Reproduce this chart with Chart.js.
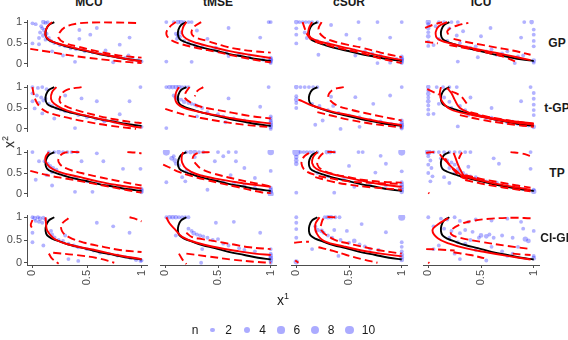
<!DOCTYPE html>
<html>
<head>
<meta charset="utf-8">
<script src="https://cdn.jsdelivr.net/npm/chart.js@4.4.0/dist/chart.umd.min.js"></script>
<style>
  body { margin: 0; background: #fff; font-family: "Liberation Sans", Arial, sans-serif; }
  #wrap { position: relative; width: 568px; height: 340px; overflow: hidden; }
  #wrap canvas { position: absolute; }
  .lab { position: absolute; white-space: nowrap; color: #1a1a1a; line-height: 12px; }
  .strip { font-weight: bold; font-size: 12px; }
  .dot { position: absolute; border-radius: 50%; background: rgba(0, 0, 255, 0.33); }
</style>
</head>
<body>
<div id="wrap"></div>
<script>
// facettes
const methods = ['MCU', 'tMSE', 'cSUR', 'ICU'];
const models = ['GP', 't-GP', 'TP', 'Cl-GP'];
const xTicks = [0, 0.5, 1];
const yTicks = [0, 0.5, 1];
const legendN = [2, 4, 6, 8, 10];

// contour vrai (noir), identique partout
const trueCurve = [[0.2,1.0],[0.15,0.93],[0.125,0.82],[0.12,0.7],[0.135,0.6],[0.18,0.53],[0.26,0.46],[0.35,0.39],[0.47,0.32],[0.6,0.24],[0.75,0.17],[0.88,0.11],[1.0,0.07]];

// ---- GP ----
const pts_MCU_GP = [[0.0,0.97,1],[0.03,0.95,1],[0.08,0.9,1],[0.1,1.0,2],[0.12,0.98,1],[0.14,1.0,1],[0.09,0.85,1],[0.11,0.8,2],[0.07,0.75,1],[0.13,0.72,1],[0.1,0.68,2],[0.15,0.62,1],[0.12,0.58,1],[0.17,0.55,1],[0.2,0.5,1],[0.06,0.62,1],[0.0,0.49,1],[0.06,0.47,1],[0.25,0.45,1],[0.3,0.42,1],[0.35,0.37,1],[0.4,0.35,1],[0.48,0.3,1],[0.55,0.28,1],[0.62,0.24,1],[0.7,0.2,1],[0.78,0.17,1],[0.85,0.14,1],[0.92,0.1,1],[0.97,0.08,2],[1.0,0.06,1],[0.43,0.81,1],[0.59,0.86,1],[0.53,0.7,1],[0.43,0.6,1],[0.89,0.63,1],[0.8,0.46,1],[0.67,0.32,1],[0.39,0.05,1],[0.74,0.04,1],[0.88,0.2,1],[0.28,0.2,1],[0.18,0.3,1]];
const est_MCU_GP = [[[0.18,1.0],[0.14,0.9],[0.12,0.78],[0.12,0.68],[0.15,0.58],[0.22,0.5],[0.33,0.42],[0.47,0.33],[0.62,0.24],[0.78,0.16],[0.9,0.1],[1.0,0.06]]];
const bnd_MCU_GP = [
  [[0.95,0.98],[0.75,0.99],[0.55,0.99],[0.4,0.96],[0.3,0.88],[0.25,0.75],[0.24,0.62],[0.3,0.5],[0.42,0.41],[0.58,0.31],[0.75,0.22],[0.9,0.17],[1.0,0.15]],
  [[-0.02,0.36],[0.15,0.29],[0.33,0.21],[0.5,0.15],[0.7,0.09],[0.85,0.05],[1.0,0.02]]
];

const pts_tMSE_GP = [[0.01,1.0,1],[0.08,1.0,1],[0.12,1.0,2],[0.15,1.0,2],[0.18,1.0,1],[0.22,1.0,1],[0.25,1.0,1],[0.98,1.0,1],[1.0,1.0,1],[0.6,0.86,1],[0.9,0.63,1],[0.1,0.72,1],[0.12,0.68,2],[0.14,0.65,1],[0.11,0.6,1],[0.15,0.75,1],[0.18,0.55,1],[0.22,0.5,1],[0.28,0.45,1],[0.35,0.4,1],[0.45,0.34,1],[0.5,0.3,1],[0.48,0.39,1],[0.58,0.27,1],[0.7,0.22,1],[0.8,0.2,1],[0.6,0.19,1],[0.01,0.055,1],[0.25,0.05,1],[1.0,0.15,1],[1.0,0.11,2],[1.0,0.08,2],[1.0,0.05,1],[1.0,0.02,1],[0.93,0.1,1],[0.4,0.6,1],[0.3,0.8,1]];
const est_tMSE_GP = [[[0.2,1.0],[0.17,0.88],[0.16,0.72],[0.2,0.6],[0.3,0.5],[0.45,0.4],[0.6,0.31],[0.75,0.24],[0.9,0.18],[1.0,0.14]]];
const bnd_tMSE_GP = [
  [[0.1,1.0],[0.04,0.88],[0.01,0.72],[0.05,0.58],[0.13,0.49],[0.3,0.38],[0.48,0.29],[0.7,0.17],[0.93,0.06],[1.0,0.04]],
  [[0.34,1.0],[0.27,0.88],[0.25,0.72],[0.3,0.62],[0.4,0.55],[0.55,0.43],[0.7,0.35],[0.85,0.3],[1.0,0.27]]
];

const pts_cSUR_GP = [[0.0,1.0,2],[0.03,1.0,1],[0.06,1.0,1],[0.09,1.0,1],[0.12,1.0,1],[0.15,1.0,1],[0.2,1.0,1],[0.0,0.85,1],[0.0,0.7,1],[0.0,0.49,1],[0.08,0.75,1],[0.1,0.62,1],[0.33,0.93,1],[0.59,1.0,1],[0.77,1.0,1],[1.0,1.0,1],[0.475,0.7,1],[0.89,0.63,1],[0.3,0.5,1],[0.4,0.4,1],[0.55,0.32,1],[0.65,0.3,1],[0.72,0.25,1],[0.8,0.2,1],[0.21,0.22,1],[0.56,0.2,1],[0.77,0.02,1],[0.89,0.03,1],[1.0,0.18,1],[1.0,0.13,2],[1.0,0.1,2],[1.0,0.06,2],[1.0,0.02,1],[0.95,0.12,1],[0.2,0.55,1],[0.6,0.6,1]];
const est_cSUR_GP = [[[0.15,1.0],[0.12,0.85],[0.115,0.7],[0.17,0.58],[0.33,0.47],[0.5,0.37],[0.65,0.28],[0.8,0.19],[1.0,0.09]]];
const bnd_cSUR_GP = [
  [[0.06,1.0],[0.08,0.85],[0.105,0.7],[0.15,0.57],[0.24,0.49],[0.4,0.38],[0.62,0.26],[0.8,0.13],[1.0,0.02]],
  [[0.24,1.0],[0.21,0.83],[0.25,0.66],[0.33,0.56],[0.48,0.46],[0.62,0.39],[0.8,0.27],[1.0,0.16]]
];

const pts_ICU_GP = [[0.0,1.0,3],[0.0,0.95,1],[0.0,0.86,2],[0.0,0.76,1],[0.0,0.66,2],[0.0,0.53,1],[0.0,0.43,1],[0.1,1.0,1],[0.15,1.0,1],[0.22,1.0,1],[0.28,1.0,1],[0.59,0.86,1],[0.91,1.0,1],[0.98,1.0,2],[1.0,0.82,1],[1.0,0.7,1],[1.0,0.55,1],[1.0,0.42,1],[0.88,0.63,1],[0.5,0.66,1],[0.27,0.68,1],[0.28,0.055,1],[0.47,0.16,1],[0.65,0.22,1],[0.82,0.02,1],[0.36,0.4,1],[0.05,0.45,1],[0.1,0.6,1],[0.18,0.55,1],[0.25,0.45,1],[0.3,0.5,1],[0.4,0.38,1],[0.45,0.42,1],[0.55,0.3,1],[0.6,0.35,1],[0.7,0.25,1],[0.75,0.3,1],[0.85,0.18,1],[0.9,0.2,1],[1.0,0.08,2],[1.0,0.03,1],[0.2,0.85,1],[0.33,0.78,1],[0.07,0.9,1]];
const est_ICU_GP = [[[0.18,1.0],[0.1,0.9],[0.07,0.76],[0.09,0.6],[0.21,0.49],[0.45,0.36],[0.65,0.26],[0.82,0.17],[0.97,0.09]]];
const bnd_ICU_GP = [
  [[-0.03,0.86],[0.05,0.94],[0.13,1.0]],
  [[0.21,0.86],[0.18,0.78],[0.19,0.7]],
  [[0.25,0.9],[0.32,0.95],[0.38,0.98]],
  [[-0.03,0.53],[0.03,0.51],[0.09,0.49]],
  [[0.24,0.6],[0.35,0.53],[0.5,0.46],[0.65,0.39],[0.8,0.32],[0.97,0.22]],
  [[0.2,0.45],[0.35,0.38],[0.5,0.3],[0.65,0.22],[0.75,0.14],[0.84,0.04]]
];

// ---- t-GP ----
const pts_MCU_tGP = [[0.0,1.0,1],[0.05,0.98,1],[0.09,1.0,1],[0.13,0.95,1],[0.0,0.85,1],[0.04,0.8,1],[0.08,0.75,1],[0.12,0.72,1],[0.1,0.68,1],[0.0,0.66,1],[0.06,0.62,1],[0.15,0.6,1],[0.18,0.55,1],[0.02,0.49,1],[0.09,0.37,1],[0.22,0.5,1],[0.26,0.46,1],[0.3,0.42,1],[0.35,0.4,1],[0.42,0.33,1],[0.5,0.28,1],[0.58,0.24,1],[0.65,0.21,1],[0.75,0.17,1],[0.85,0.12,1],[0.95,0.08,1],[1.0,0.05,1],[0.45,0.73,1],[0.59,0.66,1],[0.89,0.66,1],[0.99,1.0,1],[0.39,0.02,1],[0.66,0.18,1],[0.3,0.8,1],[0.2,0.25,1],[0.8,0.35,1]];
const est_MCU_tGP = [[[0.22,1.0],[0.18,0.88],[0.17,0.72],[0.2,0.6],[0.28,0.48],[0.36,0.4],[0.5,0.31],[0.65,0.22],[0.8,0.13],[0.92,0.06],[1.0,0.03]]];
const bnd_MCU_tGP = [
  [[0.0,1.0],[0.01,0.85],[0.03,0.68],[0.07,0.52],[0.13,0.41],[0.3,0.28],[0.5,0.17],[0.7,0.08],[0.95,0.0]],
  [[0.45,1.0],[0.31,0.93],[0.26,0.8],[0.25,0.66],[0.3,0.55],[0.39,0.46],[0.59,0.32],[0.75,0.23],[0.92,0.16],[1.0,0.14]]
];

const pts_tMSE_tGP = [[0.01,1.0,1],[0.04,1.0,2],[0.07,1.0,2],[0.1,1.0,2],[0.13,1.0,2],[0.16,1.0,1],[0.19,1.0,1],[0.22,1.0,1],[0.98,1.0,1],[0.08,0.8,1],[0.1,0.75,2],[0.12,0.72,1],[0.15,0.7,1],[0.18,0.65,2],[0.22,0.62,1],[0.25,0.6,1],[0.28,0.58,1],[0.3,0.55,1],[0.35,0.5,1],[0.6,0.73,1],[0.9,0.53,1],[0.57,0.16,1],[0.01,0.02,1],[0.4,0.4,1],[0.5,0.35,1],[0.55,0.3,1],[0.65,0.25,1],[0.75,0.2,1],[0.85,0.15,1],[1.0,0.3,1],[1.0,0.25,1],[1.0,0.2,1],[1.0,0.15,2],[1.0,0.1,2],[1.0,0.05,2],[1.0,0.0,1],[0.3,0.3,1]];
const est_tMSE_tGP = [[[0.13,1.0],[0.1,0.85],[0.1,0.66],[0.16,0.52],[0.3,0.42],[0.45,0.34],[0.6,0.27],[0.8,0.19],[1.0,0.13]]];
const bnd_tMSE_tGP = [
  [[0.0,0.48],[0.1,0.4],[0.2,0.33],[0.34,0.26],[0.55,0.17],[0.75,0.1],[1.0,0.04]],
  [[0.23,1.0],[0.19,0.85],[0.19,0.73],[0.25,0.62],[0.34,0.53],[0.5,0.45],[0.63,0.39],[0.8,0.31],[1.0,0.25]],
  [[0.36,1.0],[0.3,0.9],[0.28,0.78]]
];

const pts_cSUR_tGP = [[0.0,1.0,2],[0.04,1.0,1],[0.08,1.0,1],[0.12,1.0,1],[0.16,1.0,1],[0.2,1.0,1],[0.0,0.78,1],[0.0,0.7,2],[0.0,0.62,1],[0.0,0.5,1],[0.33,0.77,1],[0.56,0.76,1],[0.73,0.6,1],[0.89,0.8,1],[1.0,1.0,1],[0.18,0.1,1],[0.42,0.0,1],[0.6,0.05,1],[0.15,0.6,1],[0.22,0.55,1],[0.3,0.45,1],[0.4,0.38,1],[0.5,0.32,1],[0.6,0.28,1],[0.7,0.22,1],[0.8,0.18,1],[0.9,0.12,1],[1.0,0.2,1],[1.0,0.14,2],[1.0,0.09,2],[1.0,0.05,2],[1.0,0.01,1],[0.35,0.55,1],[0.25,0.2,1]];
const est_cSUR_tGP = [[[0.02,0.7],[0.06,0.66],[0.15,0.56],[0.33,0.42],[0.5,0.33],[0.7,0.22],[0.85,0.15],[1.0,0.09]]];
const bnd_cSUR_tGP = [
  [[0.45,1.0],[0.36,0.95],[0.31,0.84],[0.31,0.72],[0.38,0.57],[0.5,0.47],[0.65,0.38],[0.8,0.3],[1.0,0.2]],
  [[0.2,0.4],[0.33,0.32],[0.5,0.22],[0.7,0.13],[0.85,0.08],[1.0,0.03]]
];

const pts_ICU_tGP = [[0.0,1.0,2],[0.0,0.92,1],[0.0,0.84,2],[0.0,0.75,1],[0.0,0.66,2],[0.0,0.56,1],[0.0,0.46,1],[0.0,0.35,1],[0.08,1.0,1],[0.14,1.0,1],[0.2,1.0,1],[0.27,1.0,1],[0.97,1.0,1],[1.0,0.86,1],[1.0,0.72,1],[1.0,0.58,1],[1.0,0.45,1],[1.0,0.33,1],[0.88,0.66,1],[0.05,0.36,1],[0.38,0.33,1],[0.28,0.06,1],[0.65,0.2,1],[0.1,0.6,1],[0.15,0.75,1],[0.2,0.65,1],[0.22,0.5,1],[0.3,0.55,1],[0.35,0.45,1],[0.42,0.35,1],[0.5,0.3,1],[0.55,0.25,1],[0.6,0.27,1],[0.7,0.2,1],[0.75,0.15,1],[0.8,0.17,1],[0.85,0.12,1],[0.9,0.1,1],[0.95,0.08,1],[1.0,0.05,2],[0.4,0.75,1],[0.6,0.5,1]];
const est_ICU_tGP = [
  [[0.12,1.0],[0.11,0.85],[0.13,0.66],[0.21,0.47],[0.4,0.34],[0.6,0.24],[0.8,0.16],[1.0,0.1]],
  [[0.18,0.98],[0.22,0.85],[0.25,0.7],[0.3,0.5],[0.4,0.38],[0.55,0.28],[0.75,0.2],[1.0,0.13]]
];
const bnd_ICU_tGP = [
  [[-0.01,0.95],[0.05,0.88],[0.1,0.82]],
  [[0.22,0.9],[0.3,0.8],[0.35,0.66],[0.38,0.53]],
  [[0.4,0.4],[0.55,0.3],[0.7,0.23],[0.85,0.17],[1.0,0.12]],
  [[0.3,0.33],[0.5,0.22],[0.7,0.14],[0.85,0.09],[1.0,0.05]]
];

// ---- TP ----
const pts_MCU_TP = [[0.0,1.0,1],[0.15,1.0,1],[0.2,1.0,1],[0.24,1.0,2],[0.28,1.0,1],[0.32,1.0,1],[0.36,1.0,1],[0.41,1.0,1],[0.06,0.78,1],[0.11,0.78,1],[0.14,0.72,1],[0.16,0.66,2],[0.19,0.62,1],[0.22,0.58,1],[0.18,0.52,1],[0.25,0.5,1],[0.03,0.34,1],[0.18,0.2,1],[0.39,0.05,1],[0.59,0.97,1],[0.65,0.78,1],[0.83,0.6,1],[0.99,0.6,1],[0.45,0.78,1],[0.3,0.45,1],[0.4,0.37,1],[0.5,0.3,1],[0.6,0.27,1],[0.7,0.22,1],[0.8,0.18,1],[0.9,0.14,1],[1.0,0.12,1],[1.0,0.08,2],[1.0,0.04,1],[0.55,0.05,1],[0.13,0.45,1]];
const est_MCU_TP = [[[0.15,1.0],[0.12,0.88],[0.12,0.78],[0.16,0.64],[0.25,0.52],[0.44,0.4],[0.6,0.3],[0.8,0.2],[1.0,0.13]]];
const bnd_MCU_TP = [
  [[0.43,1.0],[0.3,0.99],[0.25,0.9],[0.24,0.76],[0.3,0.62],[0.45,0.5],[0.6,0.41],[0.8,0.3],[1.0,0.2]],
  [[0.87,1.0],[0.94,0.99],[1.0,0.97]],
  [[-0.02,0.55],[0.15,0.44],[0.3,0.37],[0.45,0.3],[0.65,0.2],[0.85,0.1],[1.0,0.03]]
];

const pts_tMSE_TP = [[0.01,1.0,6],[0.2,1.0,1],[0.24,1.0,2],[0.28,1.0,2],[0.32,1.0,1],[0.36,1.0,1],[0.5,1.0,1],[0.6,1.0,1],[0.67,1.0,1],[1.0,1.0,5],[0.06,0.85,2],[0.09,0.8,2],[0.1,0.72,1],[0.13,0.68,1],[0.08,0.9,1],[0.47,0.78,1],[0.67,0.78,1],[1.0,0.55,1],[0.01,0.28,1],[0.19,0.3,1],[0.2,0.55,1],[0.25,0.5,1],[0.3,0.45,1],[0.35,0.42,1],[0.45,0.35,1],[0.55,0.3,1],[0.65,0.25,1],[0.75,0.2,1],[0.85,0.15,1],[1.0,0.15,1],[1.0,0.1,2],[1.0,0.05,2],[1.0,0.0,4],[0.4,0.1,1],[0.85,0.38,1],[0.55,0.9,1],[0.75,0.62,1],[0.28,0.88,1],[0.16,0.4,1],[0.62,0.45,1]];
const est_tMSE_TP = [[[0.17,1.0],[0.155,0.88],[0.16,0.75],[0.2,0.6],[0.3,0.47],[0.53,0.34],[0.75,0.25],[1.0,0.17]]];
const bnd_tMSE_TP = [
  [[-0.02,0.7],[0.05,0.62],[0.115,0.54],[0.22,0.45],[0.38,0.34],[0.675,0.17],[0.91,0.04],[1.0,0.02]],
  [[0.42,1.0],[0.3,0.97],[0.26,0.85],[0.29,0.72],[0.34,0.6],[0.44,0.5],[0.675,0.35],[1.0,0.18]]
];

const pts_cSUR_TP = [[0.0,1.0,8],[0.04,1.0,1],[0.07,1.0,1],[0.1,1.0,1],[0.13,1.0,1],[0.16,1.0,1],[0.2,1.0,1],[0.29,1.0,2],[0.32,1.0,2],[0.36,1.0,1],[0.59,1.0,1],[0.63,1.0,1],[1.0,1.0,6],[0.0,0.88,2],[0.0,0.8,2],[0.0,0.72,2],[0.8,0.91,1],[0.5,0.67,1],[0.85,0.72,1],[0.75,0.51,1],[1.0,0.54,1],[0.0,0.03,1],[0.36,0.03,1],[0.55,0.17,1],[0.2,0.5,1],[0.3,0.42,1],[0.45,0.35,1],[0.6,0.3,1],[0.7,0.25,1],[0.85,0.2,1],[1.0,0.28,1],[1.0,0.22,2],[1.0,0.16,2],[1.0,0.1,2],[1.0,0.05,2]];
const est_cSUR_TP = [[[0.2,1.0],[0.16,0.88],[0.15,0.74],[0.19,0.6],[0.3,0.5],[0.48,0.39],[0.65,0.3],[0.8,0.23],[1.0,0.17]]];
const bnd_cSUR_TP = [
  [[0.12,0.98],[0.07,0.88],[0.05,0.72],[0.09,0.55],[0.2,0.44],[0.33,0.37],[0.5,0.3],[0.75,0.26],[1.0,0.24]],
  [[0.37,1.0],[0.27,0.99],[0.22,0.88],[0.2,0.7],[0.25,0.57],[0.36,0.47],[0.5,0.4],[0.62,0.34],[0.8,0.29],[1.0,0.27]],
  [[0.18,0.4],[0.33,0.3],[0.475,0.23],[0.7,0.16],[1.0,0.1]]
];

const pts_ICU_TP = [[0.0,1.0,5],[0.05,1.0,1],[0.1,1.0,1],[0.15,1.0,1],[0.2,1.0,1],[0.25,1.0,1],[0.3,1.0,1],[0.35,1.0,1],[0.4,1.0,1],[0.97,1.0,1],[0.0,0.9,1],[0.02,0.8,1],[0.0,0.7,1],[0.03,0.62,1],[0.0,0.5,1],[0.04,0.42,1],[0.02,0.3,1],[0.12,0.85,1],[0.18,0.8,1],[0.22,0.75,1],[0.25,0.7,1],[0.2,0.62,1],[0.28,0.6,1],[0.3,0.55,1],[0.33,0.5,1],[0.25,0.5,1],[0.36,0.45,1],[0.4,0.42,1],[0.45,0.4,1],[0.62,0.85,1],[0.67,0.72,1],[0.97,0.6,1],[0.2,0.26,1],[0.47,0.36,1],[0.55,0.3,1],[0.65,0.27,1],[0.75,0.22,1],[0.85,0.18,1],[0.9,0.12,1],[1.0,0.1,1],[1.0,0.06,3],[0.15,0.4,1],[0.38,0.65,1]];
const est_ICU_TP = [
  [[0.11,0.95],[0.13,0.88],[0.17,0.78],[0.21,0.67],[0.27,0.54],[0.32,0.44],[0.45,0.35],[0.65,0.24],[0.8,0.17],[0.97,0.1]],
  [[0.24,0.98],[0.26,0.85],[0.28,0.71],[0.31,0.55],[0.34,0.44],[0.45,0.37]]
];
const bnd_ICU_TP = [
  [[-0.02,0.98],[0.04,1.0],[0.09,0.98]],
  [[0.32,0.99],[0.3,0.9],[0.29,0.84]],
  [[0.78,1.0],[0.88,0.97],[0.98,0.9]],
  [[0.16,0.85],[0.2,0.7],[0.25,0.55],[0.3,0.42],[0.4,0.33]],
  [[0.35,0.45],[0.5,0.36],[0.65,0.29],[0.8,0.22],[0.97,0.15]],
  [[0.35,0.33],[0.5,0.25],[0.65,0.18],[0.8,0.12],[0.97,0.06]],
  [[0.0,0.03],[0.01,0.01]]
];

// ---- Cl-GP ----
const pts_MCU_ClGP = [[0.0,1.0,1],[0.02,0.98,2],[0.05,1.0,1],[0.07,0.97,2],[0.1,0.99,1],[0.12,0.95,1],[0.03,0.92,1],[0.06,0.9,1],[0.09,0.88,1],[0.0,0.66,1],[0.0,0.45,1],[0.1,0.38,1],[0.17,0.7,1],[0.18,0.62,1],[0.2,0.55,2],[0.24,0.5,1],[0.28,0.48,1],[0.33,0.42,1],[0.38,0.38,1],[0.42,0.34,1],[0.5,0.3,1],[0.56,0.27,1],[0.62,0.22,1],[0.7,0.2,1],[0.78,0.16,1],[0.85,0.13,1],[0.9,0.1,1],[0.95,0.07,2],[1.0,0.05,1],[0.59,0.88,1],[0.74,0.8,1],[0.89,0.66,1],[0.33,0.08,1],[0.42,0.04,1],[0.99,0.04,1],[0.3,0.6,1]];
const est_MCU_ClGP = [[[0.12,1.0],[0.125,0.85],[0.135,0.71],[0.21,0.51],[0.35,0.39],[0.59,0.27],[0.8,0.16],[1.0,0.08]]];
const bnd_MCU_ClGP = [
  [[0.0,0.94],[-0.015,0.82],[0.02,0.71]],
  [[0.33,0.98],[0.27,0.85],[0.27,0.7],[0.33,0.57],[0.475,0.44],[0.65,0.35],[0.8,0.28],[1.0,0.235]],
  [[0.89,1.0],[0.95,0.96],[1.0,0.91]],
  [[0.19,0.22],[0.4,0.17],[0.6,0.1],[0.75,0.0]],
  [[0.15,0.2],[0.18,0.09],[0.24,-0.02]]
];

const pts_tMSE_ClGP = [[0.01,1.0,1],[0.04,1.0,2],[0.07,1.0,2],[0.1,1.0,2],[0.13,1.0,1],[0.16,1.0,1],[0.19,1.0,1],[0.22,1.0,1],[0.22,0.75,1],[0.25,0.7,1],[0.27,0.65,2],[0.3,0.62,1],[0.33,0.6,1],[0.36,0.58,1],[0.4,0.55,1],[0.45,0.5,1],[0.5,0.52,1],[0.48,0.88,1],[0.65,0.9,1],[0.9,0.66,1],[0.6,0.38,1],[0.7,0.32,1],[0.75,0.28,1],[0.85,0.25,1],[0.55,0.42,1],[1.0,0.3,1],[1.0,0.2,1],[1.0,0.15,2],[1.0,0.1,2],[1.0,0.05,2],[1.0,0.0,1],[0.34,0.0,1],[0.1,0.6,1],[0.35,0.3,1]];
const est_tMSE_ClGP = [[[0.01,1.0],[0.04,0.87],[0.09,0.74],[0.16,0.57],[0.3,0.44],[0.48,0.34],[0.7,0.25],[0.85,0.2],[1.0,0.17]]];
const bnd_tMSE_ClGP = [
  [[0.2,0.66],[0.25,0.57],[0.35,0.52],[0.48,0.47],[0.65,0.4],[0.8,0.34],[1.0,0.3]],
  [[0.2,0.2],[0.4,0.14],[0.63,0.07],[0.85,0.02],[1.0,0.0]],
  [[0.13,0.2],[0.16,0.08],[0.2,-0.03]]
];

const pts_cSUR_ClGP = [[0.0,1.0,1],[0.27,1.0,1],[0.3,1.0,2],[0.33,1.0,2],[0.37,1.0,1],[0.41,1.0,1],[0.0,0.88,1],[0.0,0.74,1],[0.0,0.55,1],[0.18,0.8,1],[0.2,0.72,2],[0.24,0.7,2],[0.26,0.66,1],[0.3,0.6,1],[0.34,0.55,1],[0.36,0.72,1],[0.42,0.5,1],[0.5,0.44,1],[0.55,0.48,2],[0.6,0.4,1],[0.65,0.36,1],[0.7,0.3,1],[0.78,0.28,1],[0.85,0.67,1],[0.62,0.85,1],[0.48,0.7,1],[1.0,1.0,6],[1.0,0.45,1],[1.0,0.35,1],[1.0,0.25,1],[1.0,0.18,2],[1.0,0.12,2],[1.0,0.06,2],[0.0,0.02,3],[0.4,0.15,1],[0.15,0.3,1]];
const est_cSUR_ClGP = [[[0.22,1.0],[0.18,0.84],[0.195,0.64],[0.27,0.47],[0.45,0.36],[0.62,0.27],[0.8,0.2],[1.0,0.14]]];
const bnd_cSUR_ClGP = [
  [[0.37,1.0],[0.27,0.99],[0.24,0.88],[0.24,0.71],[0.36,0.51],[0.5,0.42],[0.65,0.34],[0.8,0.27],[1.0,0.2]],
  [[-0.02,0.44],[0.06,0.46],[0.12,0.46]],
  [[0.21,0.34],[0.35,0.26],[0.475,0.17],[0.62,0.08],[0.77,0.0]],
  [[-0.01,0.05],[0.02,0.0]]
];

const pts_ICU_ClGP = [[0.0,1.0,1],[0.12,0.97,1],[0.18,0.95,1],[0.25,1.0,1],[0.3,0.92,1],[0.38,0.9,1],[0.45,0.95,1],[0.6,0.93,1],[0.75,0.97,1],[0.88,0.9,1],[0.05,0.8,1],[0.15,0.75,1],[0.22,0.7,1],[0.3,0.65,1],[0.35,0.72,1],[0.42,0.68,1],[0.5,0.6,2],[0.55,0.58,2],[0.58,0.62,1],[0.62,0.55,1],[0.48,0.55,1],[0.4,0.5,1],[0.2,0.55,1],[0.28,0.45,1],[0.35,0.42,1],[0.7,0.6,1],[0.8,0.55,1],[0.92,0.52,3],[0.95,0.48,2],[0.9,0.75,1],[1.0,0.7,1],[0.05,0.3,1],[0.1,0.38,1],[0.45,0.28,1],[0.6,0.35,1],[0.7,0.25,1],[0.8,0.2,1],[0.85,0.35,1],[0.3,0.08,1],[0.55,0.05,1],[0.75,0.15,1],[1.0,0.15,1],[1.0,0.1,2],[0.25,0.2,1]];
const est_ICU_ClGP = [[[0.19,0.98],[0.09,0.84],[0.04,0.71],[0.09,0.54],[0.2,0.42],[0.35,0.32],[0.55,0.23],[0.75,0.15],[0.97,0.07]]];
const bnd_ICU_ClGP = [
  [[0.97,0.98],[0.8,0.99],[0.6,0.97],[0.42,0.92],[0.3,0.84],[0.22,0.72],[0.22,0.62],[0.3,0.55],[0.5,0.46],[0.75,0.37],[0.97,0.3]],
  [[-0.02,0.3],[0.1,0.29],[0.25,0.27]],
  [[0.24,0.23],[0.4,0.17],[0.53,0.1]],
  [[0.8,0.2],[0.9,0.18],[0.97,0.17]],
  [[0.0,0.01],[0.01,-0.01]]
];

// table des facettes [ligne][colonne]
const grid = [
  [[pts_MCU_GP, est_MCU_GP, bnd_MCU_GP], [pts_tMSE_GP, est_tMSE_GP, bnd_tMSE_GP], [pts_cSUR_GP, est_cSUR_GP, bnd_cSUR_GP], [pts_ICU_GP, est_ICU_GP, bnd_ICU_GP]],
  [[pts_MCU_tGP, est_MCU_tGP, bnd_MCU_tGP], [pts_tMSE_tGP, est_tMSE_tGP, bnd_tMSE_tGP], [pts_cSUR_tGP, est_cSUR_tGP, bnd_cSUR_tGP], [pts_ICU_tGP, est_ICU_tGP, bnd_ICU_tGP]],
  [[pts_MCU_TP, est_MCU_TP, bnd_MCU_TP], [pts_tMSE_TP, est_tMSE_TP, bnd_tMSE_TP], [pts_cSUR_TP, est_cSUR_TP, bnd_cSUR_TP], [pts_ICU_TP, est_ICU_TP, bnd_ICU_TP]],
  [[pts_MCU_ClGP, est_MCU_ClGP, bnd_MCU_ClGP], [pts_tMSE_ClGP, est_tMSE_ClGP, bnd_tMSE_ClGP], [pts_cSUR_ClGP, est_cSUR_ClGP, bnd_cSUR_ClGP], [pts_ICU_ClGP, est_ICU_ClGP, bnd_ICU_ClGP]]
];

// mise en page
const colLeft = [27, 156, 287, 419];
const rowTop = [16, 81, 146, 211];
const panelW = 124, panelH = 54;
const axisW = 27, axisH = 32;
const FONT = '"Liberation Sans", Arial, sans-serif';
const wrap = document.getElementById('wrap');

const rad = n => Math.sqrt(2 + 1.75 * n);
const xy = c => c.map(p => ({ x: p[0], y: p[1] }));

function lineDs(curve, color, dash, order) {
  return {
    data: xy(curve), showLine: true, borderColor: color, borderWidth: 1.9,
    borderDash: dash, pointRadius: 0, tension: 0.4, fill: false, order: order
  };
}

function axisOpt(show, dir) {
  return {
    type: 'linear', min: -0.05, max: 1.05, display: show,
    afterBuildTicks: s => { s.ticks = (dir === 'x' ? xTicks : yTicks).map(v => ({ value: v })); },
    afterFit: s => {
      if (!show) return; // axe caché : rien à réserver
      if (dir === 'y') s.width = axisW; else s.height = axisH;
      s.paddingTop = 0; s.paddingBottom = 0; s.paddingLeft = 0; s.paddingRight = 0;
    },
    grid: { display: true, drawOnChartArea: false, drawTicks: true, tickLength: 3, color: '#4d4d4d', lineWidth: 1 },
    border: { display: true, color: '#4d4d4d', width: 1 },
    ticks: {
      color: '#4d4d4d', font: { size: 11, family: FONT }, padding: 2, autoSkip: false,
      minRotation: dir === 'x' ? 90 : 0, maxRotation: dir === 'x' ? 90 : 0,
      callback: v => String(v)
    }
  };
}

function makePanel(r, c) {
  const [pts, est, bnd] = grid[r][c];
  const showY = c === 0, showX = r === 3;
  const cv = document.createElement('canvas');
  cv.width = panelW + (showY ? axisW : 0);
  cv.height = panelH + (showX ? axisH : 0);
  cv.style.left = (colLeft[c] - (showY ? axisW : 0)) + 'px';
  cv.style.top = rowTop[r] + 'px';
  wrap.appendChild(cv);

  const datasets = [];
  bnd.forEach(b => datasets.push(lineDs(b, '#ff0000', [8, 4], 1)));
  est.forEach(e => datasets.push(lineDs(e, '#ff0000', [], 2)));
  datasets.push(lineDs(trueCurve, '#000000', [], 3));
  datasets.push({
    data: xy(pts), showLine: false, order: 4,
    pointRadius: pts.map(p => rad(p[2])),
    pointBackgroundColor: 'rgba(0,0,255,0.3)', pointBorderWidth: 0
  });

  new Chart(cv, {
    type: 'scatter',
    data: { datasets: datasets },
    options: {
      responsive: false, animation: false, events: [],
      layout: { padding: 0 },
      plugins: { legend: { display: false }, tooltip: { enabled: false } },
      scales: { x: axisOpt(showX, 'x'), y: axisOpt(showY, 'y') }
    }
  });
}

for (let r = 0; r < 4; r++) for (let c = 0; c < 4; c++) makePanel(r, c);

// textes
function addText(html, x, y, cls, style) {
  const d = document.createElement('div');
  d.className = 'lab ' + (cls || '');
  d.innerHTML = html;
  d.style.left = x + 'px';
  d.style.top = y + 'px';
  Object.assign(d.style, style || {});
  wrap.appendChild(d);
  return d;
}

methods.forEach((m, c) => addText(m, colLeft[c] + panelW / 2, 2, 'strip', { transform: 'translate(-50%,-50%)' }));
models.forEach((m, r) => addText(m, 557, rowTop[r] + panelH / 2, 'strip', { transform: 'translate(-50%,-50%)' }));

addText('x<sup style="font-size:9px">1</sup>', 283, 298, '', { fontSize: '14px', transform: 'translate(-50%,-50%)', lineHeight: '14px' });
addText('x<sup style="font-size:9px">2</sup>', 7, 142, '', { fontSize: '14px', transform: 'translate(-50%,-50%) rotate(-90deg)', lineHeight: '14px' });

// légende
addText('n', 195, 330, '', { fontSize: '12px', transform: 'translate(-50%,-50%)' });
legendN.forEach((n, i) => {
  const cx = 212.7 + i * 34.15, r = rad(n);
  const d = document.createElement('div');
  d.className = 'dot';
  d.style.left = (cx - r) + 'px'; d.style.top = (330 - r) + 'px';
  d.style.width = (2 * r) + 'px'; d.style.height = (2 * r) + 'px';
  wrap.appendChild(d);
  addText(String(n), cx + 12.5, 330, '', { fontSize: '12px', transform: 'translateY(-50%)' });
});
</script>
</body>
</html>
